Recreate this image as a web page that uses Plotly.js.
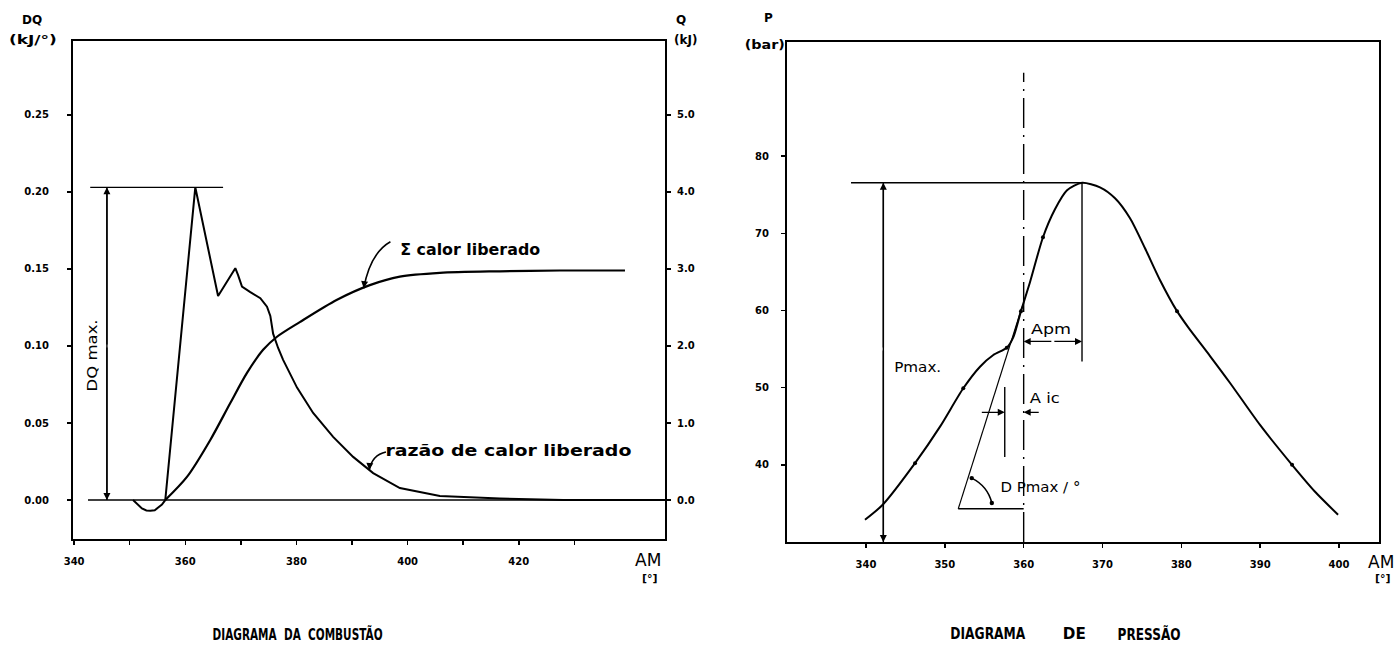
<!DOCTYPE html>
<html>
<head>
<meta charset="utf-8">
<script src="https://cdn.plot.ly/plotly-3.0.1.min.js"></script>
<style>html,body{margin:0;padding:0;background:#fff;}#chart{width:1394px;height:651px;}</style>
</head>
<body>
<div id="chart"></div>
<script>
// ---------- DATA ----------
// Combustion diagram: heat release rate DQ (kJ/°) vs crank angle AM (°)
const combAngle = [350.6, 351.4, 352.2, 353.0, 353.7, 354.5, 355.1, 355.8, 356.4, 361.8, 365.9, 369.0, 369.5, 370.2, 371.7, 373.5, 374.7, 375.3, 375.8, 376.7, 377.6, 380.1, 383.0, 386.6, 390.2, 393.8, 398.6, 405.8, 416.6, 428.0, 446.3];
const dqRate    = [0, -0.003, -0.0055, -0.0068, -0.007, -0.0066, -0.0052, -0.003, 0, 0.203, 0.1325, 0.1505, 0.146, 0.1385, 0.135, 0.131, 0.1255, 0.1195, 0.108, 0.0987, 0.091, 0.073, 0.0565, 0.041, 0.028, 0.0175, 0.0078, 0.0026, 0.001, 0, 0];
// Cumulative heat released Q (kJ)
const sumAngle  = [356.4, 360.3, 364.5, 368.1, 371.1, 374.0, 376.5, 380.6, 387.3, 393.2, 398.6, 405.8, 416.6, 427.4, 439.1];
const qCum      = [0, 0.30, 0.78, 1.26, 1.65, 1.95, 2.12, 2.31, 2.60, 2.79, 2.90, 2.95, 2.97, 2.98, 2.98];
// Pressure diagram: P (bar) vs AM (°)
const presAngle = [339.87, 342.12, 346.22, 349.39, 352.34, 354.46, 356.15, 357.85, 358.69, 359.66, 360.80, 362.45, 363.97, 365.50, 367.40, 369.68, 371.59, 373.49, 375.39, 377.30, 379.45, 380.85, 383.64, 386.18, 389.98, 394.04, 396.96, 399.88];
const pressure  = [32.88, 34.83, 40.22, 44.95, 49.92, 52.72, 54.23, 55.17, 56.56, 59.92, 63.67, 69.50, 73.12, 75.58, 76.55, 75.96, 74.54, 71.95, 68.07, 63.93, 59.92, 57.85, 54.10, 50.61, 45.17, 40.00, 36.51, 33.53];
const presDotAngle = [346.22, 352.34, 357.85, 359.66, 362.45, 379.45, 394.04];
const presDot      = [40.22, 49.92, 55.17, 59.92, 69.50, 59.92, 40.00];
// Key values
const dqMax = 0.203;
const pMax = 76.55, pMaxAngle = 367.4;
const tdcAngle = 360;
// Ticks
const combXTicks = [340, 350, 360, 370, 380, 390, 400, 410, 420, 430];
const combXText  = ['340', '', '360', '', '380', '', '400', '', '420', ''];
const dqTicks = [0, 0.05, 0.10, 0.15, 0.20, 0.25];
const dqText  = ['0.00', '0.05', '0.10', '0.15', '0.20', '0.25'];
const qTicks = [0, 1, 2, 3, 4, 5];
const qText  = ['0.0', '1.0', '2.0', '3.0', '4.0', '5.0'];
const presXTicks = [340, 350, 360, 370, 380, 390, 400];
const presXText  = ['340', '350', '360', '370', '380', '390', '400'];
const pTicks = [40, 50, 60, 70, 80];
const pText  = ['40', '50', '60', '70', '80'];

// ---------- LAYOUT ----------
const W = 1394, H = 651;
const px = v => v / W, py = v => 1 - v / H;
const FONT = 'DejaVu Sans, Liberation Sans, sans-serif';
const tickFont = {family: FONT, size: 10, color: '#000', weight: 'bold'};

const traces = [
  {x: combAngle, y: dqRate, xaxis: 'x', yaxis: 'y', mode: 'lines', line: {color: '#000', width: 2}, name: 'razão de calor liberado'},
  {x: sumAngle, y: qCum, xaxis: 'x', yaxis: 'y3', mode: 'lines', line: {color: '#000', width: 2.2, shape: 'spline', smoothing: 0.8}, name: 'Σ calor liberado'},
  {x: presAngle, y: pressure, xaxis: 'x2', yaxis: 'y2', mode: 'lines', line: {color: '#000', width: 2, shape: 'spline', smoothing: 0.7}, name: 'P'},
  {x: presDotAngle, y: presDot, xaxis: 'x2', yaxis: 'y2', mode: 'markers', marker: {color: '#000', size: 4}, name: 'pontos'}
];

const axLine = {showline: true, linecolor: '#000', linewidth: 2, mirror: false, showgrid: false, zeroline: false,
  ticks: 'outside', ticklen: 4, tickwidth: 1.5, tickcolor: '#000', tickfont: tickFont};

const layout = {
  width: W, height: H,
  margin: {l: 0, r: 0, t: 0, b: 0},
  paper_bgcolor: '#fff', plot_bgcolor: '#fff',
  showlegend: false,
  font: {family: FONT, color: '#000'},
  xaxis: Object.assign({}, axLine, {domain: [px(73), px(665)], anchor: 'y', range: [339.8, 446.3],
    tickmode: 'array', tickvals: combXTicks, ticktext: combXText, mirror: true, ticklabelstandoff: 8}),
  yaxis: Object.assign({}, axLine, {domain: [py(539), py(41)], anchor: 'x', range: [-0.0253, 0.298],
    tickmode: 'array', tickvals: dqTicks, ticktext: dqText, ticklabelstandoff: 16}),
  yaxis3: Object.assign({}, axLine, {overlaying: 'y', side: 'right', anchor: 'x', range: [-0.506, 5.96],
    tickmode: 'array', tickvals: qTicks, ticktext: qText, ticklabelstandoff: 4}),
  xaxis2: Object.assign({}, axLine, {domain: [px(787), px(1379)], anchor: 'y2', range: [329.98, 405.07],
    tickmode: 'array', tickvals: presXTicks, ticktext: presXText, mirror: true, ticklabelstandoff: 8}),
  yaxis2: Object.assign({}, axLine, {domain: [py(542), py(42)], anchor: 'x2', range: [30.0, 94.8],
    tickmode: 'array', tickvals: pTicks, ticktext: pText, mirror: true, ticklabelstandoff: 10}),
  shapes: [],
  annotations: []
};

const L = (xref, yref, x0, y0, x1, y1, extra) => Object.assign({type: 'line', xref, yref, x0, y0, x1, y1,
  line: {color: '#000', width: 1.4}}, extra || {});
const DOT = (xref, yref, x, y) => ({type: 'circle', xref, yref, xsizemode: 'pixel', ysizemode: 'pixel',
  xanchor: x, yanchor: y, x0: -2.2, x1: 2.2, y0: -2.2, y1: 2.2, fillcolor: '#000', line: {width: 0}});

// Combustion diagram guide lines
layout.shapes.push(L('x', 'y', 342.5, 0, 446.3, 0, {line: {color: '#000', width: 1.6}}));
layout.shapes.push(L('x', 'y', 342.9, dqMax, 366.8, dqMax));
layout.shapes.push(L('x', 'y', 345.9, 0, 345.9, dqMax));
layout.shapes.push({type: 'path', xref: 'x', yref: 'y', path: 'M 396.9 0.1677 Q 393.3 0.1604 392.1 0.1375', line: {color: '#000', width: 1.6}});
layout.shapes.push({type: 'path', xref: 'x', yref: 'y', path: 'M 396.1 0.0312 Q 393.6 0.0292 393.1 0.0195', line: {color: '#000', width: 1.6}});

// Pressure diagram guide lines
layout.shapes.push(L('x2', 'y2', 338.1, pMax, pMaxAngle, pMax));
layout.shapes.push(L('x2', 'y2', 342.2, 30.0, 342.2, pMax));
layout.shapes.push(L('x2', 'y2', tdcAngle, 30.0, tdcAngle, 90.8, {line: {color: '#000', width: 1.4, dash: '30px,7px,2px,7px'}}));
layout.shapes.push(L('x2', 'y2', pMaxAngle, pMax, pMaxAngle, 53.4));
layout.shapes.push(L('x2', 'y2', 351.7, 34.3, 359.8, 60.5, {line: {color: '#000', width: 1.2}}));
layout.shapes.push(L('x2', 'y2', 351.7, 34.3, tdcAngle, 34.3));
layout.shapes.push(L('x2', 'y2', 357.6, 41.0, 357.6, 50.1));
layout.shapes.push({type: 'path', xref: 'x2', yref: 'y2', path: 'M 353.41 38.28 Q 355.45 37.23 355.96 35.05', line: {color: '#000', width: 1.6}});
layout.shapes.push(DOT('x2', 'y2', 353.41, 38.28));
layout.shapes.push(DOT('x2', 'y2', 355.96, 35.05));

const arrow = (xref, yref, x, y, ax, ay) => ({xref, yref, axref: xref, ayref: yref, x, y, ax, ay, text: '',
  showarrow: true, arrowhead: 2, arrowsize: 1, arrowwidth: 1.4, arrowcolor: '#000'});
layout.annotations.push(arrow('x', 'y', 345.9, dqMax, 345.9, 0.1));
layout.annotations.push(arrow('x', 'y', 345.9, 0, 345.9, 0.1));
layout.annotations.push(arrow('x', 'y', 392.1, 0.1375, 392.3, 0.1430));
layout.annotations.push(arrow('x', 'y', 393.1, 0.0195, 393.2, 0.0240));
layout.annotations.push(arrow('x2', 'y2', 342.2, pMax, 342.2, 55));
layout.annotations.push(arrow('x2', 'y2', 342.2, 30.0, 342.2, 55));
layout.annotations.push(arrow('x2', 'y2', tdcAngle, 56.0, 363.7, 56.0));
layout.annotations.push(arrow('x2', 'y2', pMaxAngle, 56.0, 363.7, 56.0));
layout.annotations.push(arrow('x2', 'y2', 357.6, 46.8, 354.5, 46.8));
layout.annotations.push(arrow('x2', 'y2', tdcAngle, 46.8, 362.1, 46.8));

// texts (fit list: [annotation index, target width in px])
const fits = [];
const T = (x, y, text, size, extra, fitW) => {
  const a = Object.assign({xref: 'paper', yref: 'paper', x: px(x), y: py(y), text,
    showarrow: false, font: {family: FONT, size: size, color: '#000'}, xanchor: 'center', yanchor: 'middle'}, extra || {});
  layout.annotations.push(a);
  if (fitW) fits.push([layout.annotations.length - 1, fitW]);
};
const bold = (size) => ({font: {family: FONT, size: size, color: '#000', weight: 'bold'}});
T(32, 20, 'DQ', 12, bold(12));
T(33, 40, '(kJ/°)', 12, bold(12), 48);
T(681, 20, 'Q', 12, bold(12));
T(685, 40, '(kJ)', 12, bold(12));
T(768, 18, 'P', 12, bold(12));
T(765, 45, '(bar)', 12, bold(12), 40);
T(648, 560, 'AM', 17);
T(650, 578, '[°]', 11, bold(11));
T(1381, 562, 'AM', 17);
T(1383, 578, '[°]', 11, bold(11));
T(92, 356, 'DQ max.', 14, {textangle: -90}, 72);
T(470, 250, 'Σ calor liberado', 15, bold(15), 140);
T(509, 451, 'razão de calor liberado', 15, bold(15), 246);
T(917, 367, 'Pmax.', 14, null, 47);
T(1051, 329, 'Apm', 14, null, 40);
T(1045, 398, 'A ic', 14, null, 30);
T(1040, 487, 'D Pmax / °', 14, null, 80);
T(297, 634, 'DIAGRAMA  DA  COMBUSTÃO', 15, bold(15), 170);
T(988, 634, 'DIAGRAMA', 15, bold(15), 75);
T(1074, 634, 'DE', 15, bold(15), 23);
T(1149, 634, 'PRESSÃO', 15, bold(15), 63);

Plotly.newPlot('chart', traces, layout, {displayModeBar: false, staticPlot: true}).then(gd => {
  fits.forEach(([idx, target]) => {
    const t = gd.querySelector('g.annotation[data-index="' + idx + '"] text.annotation-text');
    if (!t) return;
    t.setAttribute('textLength', String(target));
    t.setAttribute('lengthAdjust', 'spacingAndGlyphs');
  });
});
</script>
</body>
</html>
